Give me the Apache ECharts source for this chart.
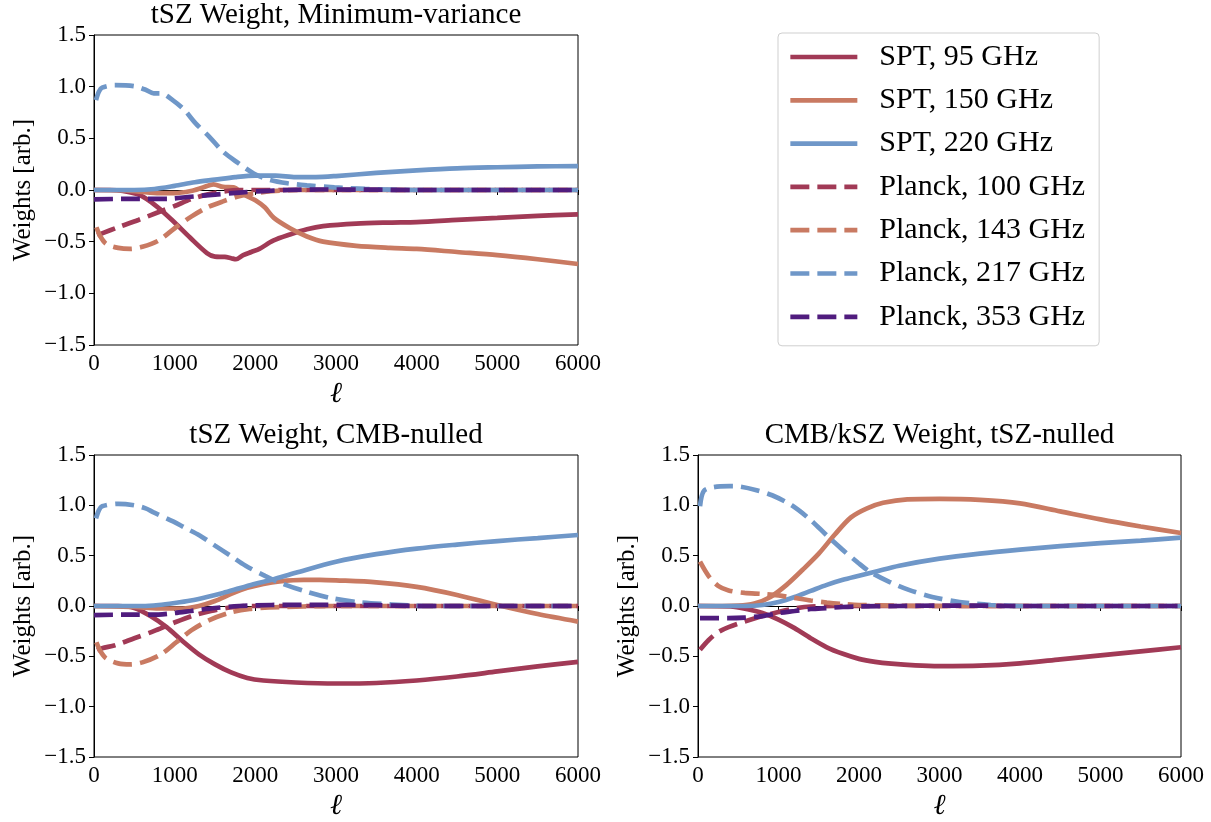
<!DOCTYPE html>
<html><head><meta charset="utf-8">
<script src="https://cdn.jsdelivr.net/npm/echarts@6/dist/echarts.min.js"></script>
<style>html,body{margin:0;padding:0;background:#fff}#c{width:1211px;height:822px}</style>
</head><body><div id="c"></div>
<script>
// ---- Data (ℓ, weight) ----
const seriesNames = ['SPT, 95 GHz','SPT, 150 GHz','SPT, 220 GHz','Planck, 100 GHz','Planck, 143 GHz','Planck, 217 GHz','Planck, 353 GHz'];
const panelTitles = ['tSZ Weight, Minimum-variance','tSZ Weight, CMB-nulled','CMB/kSZ Weight, tSZ-nulled'];
const xTicks = [0,1000,2000,3000,4000,5000,6000];

// Panel 1: tSZ Minimum-variance
const mv_spt95 = [[0,0],[200,0],[360,-0.01],[570,-0.05],[780,-0.16],[980,-0.3],[1190,-0.46],[1400,-0.61],[1500,-0.645],[1620,-0.648],[1700,-0.66],[1760,-0.67],[1850,-0.63],[1950,-0.6],[2050,-0.57],[2220,-0.49],[2430,-0.43],[2640,-0.38],[2840,-0.35],[3250,-0.325],[3670,-0.315],[4000,-0.31],[4500,-0.29],[5000,-0.27],[5500,-0.25],[6000,-0.235]];
const mv_spt150 = [[0,0],[400,-0.005],[780,-0.03],[1000,-0.03],[1200,-0.01],[1350,0.025],[1480,0.055],[1600,0.03],[1730,0.025],[1850,-0.04],[2000,-0.1],[2120,-0.17],[2230,-0.27],[2430,-0.37],[2640,-0.45],[2840,-0.5],[3250,-0.54],[3670,-0.56],[4000,-0.57],[4500,-0.6],[5000,-0.63],[5500,-0.67],[6000,-0.716]];
const mv_spt220 = [[0,0],[500,0],[750,0.01],[1000,0.04],[1250,0.075],[1500,0.1],[1750,0.125],[2000,0.14],[2250,0.14],[2500,0.125],[2750,0.125],[3000,0.135],[3500,0.165],[4000,0.19],[4500,0.21],[5000,0.22],[5500,0.228],[6000,0.232]];
const mv_p100 = [[40,-0.44],[100,-0.42],[300,-0.36],[550,-0.29],[780,-0.22],[1000,-0.155],[1200,-0.09],[1400,-0.045],[1600,-0.015],[1800,0],[3000,0],[6000,0]];
const mv_p143 = [[30,-0.36],[80,-0.45],[150,-0.52],[300,-0.56],[450,-0.57],[600,-0.55],[800,-0.49],[1000,-0.37],[1200,-0.26],[1400,-0.17],[1600,-0.11],[1800,-0.06],[2000,-0.03],[2200,-0.012],[2500,0],[6000,0]];
const mv_p217 = [[25,0.87],[60,0.95],[100,0.99],[260,1.015],[500,1.005],[640,0.97],[740,0.935],[830,0.935],[975,0.87],[1120,0.775],[1260,0.645],[1430,0.515],[1600,0.37],[1790,0.26],[1980,0.16],[2170,0.1],[2400,0.065],[2640,0.045],[2980,0.025],[3360,0.01],[4000,0],[6000,0]];
const mv_p353 = [[0,-0.09],[500,-0.085],[900,-0.085],[1200,-0.065],[1500,-0.045],[1800,-0.025],[2100,-0.01],[2400,0],[2800,0.005],[3500,0.003],[4000,0],[6000,0]];

// Panel 2: tSZ CMB-nulled
const cn_spt95 = [[0,0],[300,0],[500,-0.02],[700,-0.1],[900,-0.21],[1100,-0.35],[1300,-0.48],[1500,-0.58],[1700,-0.66],[1900,-0.715],[2100,-0.74],[2500,-0.76],[3000,-0.77],[3500,-0.765],[4000,-0.74],[4500,-0.7],[5000,-0.65],[5500,-0.6],[6000,-0.555]];
const cn_spt150 = [[0,0],[500,-0.01],[800,-0.025],[1100,-0.025],[1300,0],[1500,0.05],[1700,0.12],[1900,0.18],[2100,0.22],[2300,0.245],[2600,0.26],[2800,0.26],[3000,0.255],[3500,0.235],[4000,0.19],[4500,0.11],[5000,0.01],[5500,-0.08],[6000,-0.155]];
const cn_spt220 = [[0,0],[600,0],[800,0.01],[1000,0.03],[1200,0.055],[1400,0.09],[1600,0.13],[1800,0.175],[2000,0.22],[2200,0.26],[2500,0.33],[3000,0.44],[3500,0.515],[4000,0.57],[4500,0.61],[5000,0.645],[5500,0.675],[6000,0.705]];
const cn_p100 = [[40,-0.44],[100,-0.42],[260,-0.39],[500,-0.32],[740,-0.25],[980,-0.17],[1210,-0.1],[1450,-0.05],[1690,-0.015],[1900,0],[3000,0],[6000,0]];
const cn_p143 = [[30,-0.36],[80,-0.45],[150,-0.52],[300,-0.57],[450,-0.58],[600,-0.56],[830,-0.48],[1020,-0.36],[1210,-0.24],[1430,-0.14],[1690,-0.065],[1930,-0.03],[2170,-0.015],[2600,-0.005],[3000,0],[6000,0]];
const cn_p217 = [[25,0.87],[60,0.95],[100,0.99],[300,1.015],[500,1.0],[640,0.97],[740,0.93],[980,0.84],[1120,0.78],[1310,0.7],[1500,0.6],[1690,0.5],[1880,0.4],[2120,0.3],[2310,0.23],[2600,0.15],[2930,0.08],[3260,0.04],[3690,0.015],[4100,0],[6000,0]];
const cn_p353 = [[0,-0.09],[500,-0.085],[800,-0.085],[1000,-0.07],[1200,-0.05],[1500,-0.02],[1800,0],[2200,0.01],[2800,0.012],[3500,0.008],[4000,0],[6000,0]];

// Panel 3: CMB/kSZ tSZ-nulled
const nl_spt95 = [[0,0],[400,-0.005],[600,-0.03],[800,-0.07],[1000,-0.135],[1200,-0.22],[1400,-0.32],[1600,-0.41],[1800,-0.475],[2000,-0.525],[2200,-0.555],[2400,-0.573],[2700,-0.59],[3000,-0.597],[3500,-0.593],[4000,-0.57],[4500,-0.53],[5000,-0.49],[5500,-0.45],[6000,-0.41]];
const nl_spt150 = [[0,0],[500,0.005],[700,0.025],[900,0.09],[1100,0.21],[1300,0.36],[1500,0.52],[1700,0.71],[1900,0.88],[2100,0.97],[2300,1.025],[2600,1.06],[3000,1.065],[3500,1.055],[4000,1.02],[4500,0.94],[5000,0.86],[5500,0.79],[6000,0.725]];
const nl_spt220 = [[0,0],[600,0],[800,0.01],[1000,0.04],[1200,0.09],[1400,0.15],[1600,0.21],[1800,0.26],[2000,0.3],[2200,0.34],[2500,0.4],[3000,0.47],[3500,0.52],[4000,0.56],[4500,0.595],[5000,0.625],[5500,0.65],[6000,0.68]];
const nl_p100 = [[25,-0.435],[130,-0.34],[250,-0.26],[380,-0.21],[580,-0.155],[800,-0.1],[1000,-0.06],[1200,-0.025],[1400,-0.005],[1700,0],[3000,0],[6000,0]];
const nl_p143 = [[25,0.44],[130,0.3],[250,0.2],[380,0.155],[580,0.13],[800,0.12],[1000,0.105],[1200,0.08],[1400,0.055],[1600,0.035],[1800,0.02],[2000,0.01],[2500,0.003],[3000,0],[6000,0]];
const nl_p217 = [[25,0.99],[70,1.14],[190,1.18],[390,1.19],[530,1.185],[727,1.15],[920,1.1],[1164,1.0],[1406,0.85],[1600,0.7],[1794,0.56],[1988,0.43],[2134,0.34],[2376,0.24],[2619,0.16],[2910,0.09],[3249,0.04],[3637,0.01],[4000,0],[6000,0]];
const nl_p353 = [[25,-0.12],[380,-0.12],[580,-0.115],[800,-0.1],[1000,-0.07],[1200,-0.05],[1400,-0.03],[1600,-0.02],[1800,-0.01],[2000,-0.005],[2500,0],[3000,0.004],[3500,0.004],[4000,0],[6000,0]];

const panels = [
  [mv_spt95, mv_spt150, mv_spt220, mv_p100, mv_p143, mv_p217, mv_p353],
  [cn_spt95, cn_spt150, cn_spt220, cn_p100, cn_p143, cn_p217, cn_p353],
  [nl_spt95, nl_spt150, nl_spt220, nl_p100, nl_p143, nl_p217, nl_p353]
];

// ---- Style ----
const FONT = "'Liberation Serif','Times New Roman',serif";
const colors = ['#a13a56','#c97a62','#6f97c8','#a13a56','#c97a62','#6f97c8','#501c7e'];
const dashed = [false,false,false,true,true,true,true];
const LW = 4.7;
const DASH = [19, 8];
const grids = [
  {left:94, top:35, width:484, height:310},
  {left:94, top:455, width:484, height:310},
  {left:698, top:455, width:483, height:310}
];

const chart = echarts.init(document.getElementById('c'), null, {renderer:'canvas'});
const fmtY = v => (v < 0 ? '\u2212' : '') + Math.abs(v).toFixed(1);
const fmtX = v => String(Math.round(v));

const option = {
  animation:false,
  backgroundColor:'#fff',
  title: panelTitles.map((t,i)=>({
    text:t, left: grids[i].left + grids[i].width/2, textAlign:'center',
    top: grids[i].top - 34, padding:0,
    textStyle:{fontFamily:FONT, fontSize:29, fontWeight:'normal', color:'#000'}
  })),
  grid: grids.map(g=>Object.assign({show:true, borderColor:'#000', borderWidth:1, backgroundColor:'transparent', containLabel:false}, g)),
  xAxis: grids.map((g,i)=>({
    type:'value', gridIndex:i, min:xTicks[0], max:xTicks[xTicks.length-1], interval:1000,
    name:'\u2113', nameLocation:'middle', nameGap:35,
    nameTextStyle:{fontFamily:FONT, fontSize:29, fontStyle:'italic', color:'#000'},
    axisLine:{lineStyle:{color:'#000', width:1}},
    axisTick:{show:true, inside:false, length:5, lineStyle:{color:'#000'}},
    axisLabel:{fontFamily:FONT, fontSize:23, color:'#000', margin:7, formatter:fmtX},
    splitLine:{show:false}
  })),
  yAxis: grids.map((g,i)=>({
    type:'value', gridIndex:i, min:-1.5, max:1.5, interval:0.5,
    name:'Weights [arb.]', nameLocation:'middle', nameGap:58, nameRotate:90,
    nameTextStyle:{fontFamily:FONT, fontSize:25, color:'#000'},
    axisLine:{show:true, lineStyle:{color:'#000', width:1}},
    axisTick:{show:true, inside:false, length:5, lineStyle:{color:'#000'}},
    axisLabel:{fontFamily:FONT, fontSize:23, color:'#000', margin:8, formatter:fmtY},
    splitLine:{show:false}
  })),
  legend:{
    data: seriesNames, orient:'vertical', left:778, top:33,
    padding:[9,14,14,10], itemWidth:67, itemHeight:14, itemGap:13.3,
    backgroundColor:'#fff', borderColor:'#cfcfcf', borderWidth:1, borderRadius:4,
    textStyle:{fontFamily:FONT, fontSize:30, color:'#000', lineHeight:30, padding:[0,0,0,17]},
    lineStyle:{width:LW},
    itemStyle:{opacity:0},
    selectedMode:false
  },
  series: []
};

panels.forEach((arrs, p)=>{
  arrs.forEach((d, k)=>{
    option.series.push({
      type:'line', name:seriesNames[k], xAxisIndex:p, yAxisIndex:p,
      data:d, showSymbol:false, symbol:'none', smooth:0.3,
      lineStyle:{color:colors[k], width:LW, type: dashed[k] ? DASH : 'solid', cap:'butt'},
      itemStyle:{color:colors[k]},
      z: 2 + k
    });
  });
});

chart.setOption(option);
</script>
</body></html>
